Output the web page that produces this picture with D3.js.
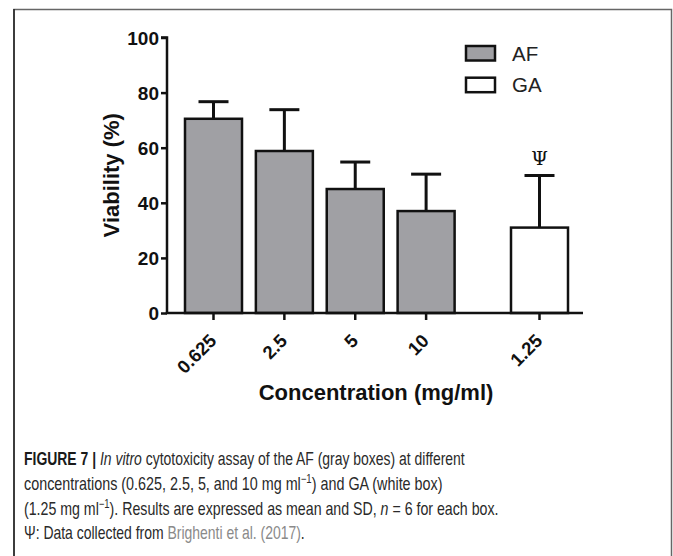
<!DOCTYPE html>
<html>
<head>
<meta charset="utf-8">
<script src="https://cdn.jsdelivr.net/npm/d3@7"></script>
<style>
  html, body { margin: 0; padding: 0; background: #fff; }
  svg { display: block; }
</style>
</head>
<body>
<svg id="chart" width="673" height="556"></svg>
<script>
// ---- data ----
const afCategories = ["0.625", "2.5", "5", "10"];
const afMeans = [70.5, 58.8, 45.0, 37.0];
const afSD = [6.2, 15.0, 9.8, 13.4];
const gaCategories = ["1.25"];
const gaMeans = [31.0];
const gaSD = [18.9];
const yTicks = [0, 20, 40, 60, 80, 100];
const legendLabels = ["AF", "GA"];
const annotation = "Ψ";

const svg = d3.select("#chart");
const C = {gray: "#a0a0a4", ink: "#111"};

// frame
svg.append("path").attr("d", "M14,560 L14,9.5 L671.5,9.5 L671.5,560")
  .attr("fill", "none").attr("stroke", "#666").attr("stroke-width", 1.5);
svg.append("line").attr("x1", 14).attr("x2", 14).attr("y1", 9).attr("y2", 560)
  .attr("stroke", "#222").attr("stroke-width", 1.5);

// scales
const y = d3.scaleLinear().domain([0, 100]).range([313, 37.5]);
const gap = 1.6;
const bars = afCategories.map((c, i) => ({cat: c, mean: afMeans[i], sd: afSD[i], slot: i, fill: C.gray}))
  .concat(gaCategories.map((c, i) => ({cat: c, mean: gaMeans[i], sd: gaSD[i], slot: afCategories.length - 1 + gap + i, fill: "#fff"})));
const x = d3.scaleLinear().domain([0, 3 + gap]).range([213.5, 539.5]);
const barW = 57, capW = 30;

const g = svg.append("g");

// error bars (behind bars)
g.selectAll("line.err").data(bars).join("line").attr("class", "err")
  .attr("x1", d => x(d.slot)).attr("x2", d => x(d.slot))
  .attr("y1", d => y(d.mean)).attr("y2", d => y(d.mean + d.sd))
  .attr("stroke", C.ink).attr("stroke-width", 3);
g.selectAll("line.cap").data(bars).join("line").attr("class", "cap")
  .attr("x1", d => x(d.slot) - capW / 2).attr("x2", d => x(d.slot) + capW / 2)
  .attr("y1", d => y(d.mean + d.sd)).attr("y2", d => y(d.mean + d.sd))
  .attr("stroke", C.ink).attr("stroke-width", 3);

// bars
g.selectAll("rect.bar").data(bars).join("rect").attr("class", "bar")
  .attr("x", d => x(d.slot) - barW / 2).attr("width", barW)
  .attr("y", d => y(d.mean)).attr("height", d => y(0) - y(d.mean))
  .attr("fill", d => d.fill).attr("stroke", C.ink).attr("stroke-width", 2.5);

// y axis
const yAxis = d3.axisLeft(y).tickValues(yTicks).tickSize(6).tickPadding(2);
const ya = svg.append("g").attr("transform", "translate(167,0)").call(yAxis);
ya.select(".domain").attr("stroke", C.ink).attr("stroke-width", 2.5).attr("d", `M-6,${y(100)}H0V${y(0)}`);
ya.selectAll(".tick line").attr("stroke", C.ink).attr("stroke-width", 2.5);
ya.selectAll(".tick text").attr("font-family", "Liberation Sans, Arial, sans-serif")
  .attr("font-weight", "bold").attr("font-size", 19).attr("fill", C.ink).attr("dy", "0.36em");

// x axis
const xa = svg.append("g").attr("transform", `translate(0,${y(0)})`);
xa.append("line").attr("x1", 165.8).attr("x2", 583).attr("y1", 0).attr("y2", 0)
  .attr("stroke", C.ink).attr("stroke-width", 2.5);
const xt = xa.selectAll("g.xt").data(bars).join("g").attr("class", "xt")
  .attr("transform", d => `translate(${x(d.slot)},0)`);
xt.append("line").attr("y1", 0).attr("y2", 7).attr("stroke", C.ink).attr("stroke-width", 2.5);
xt.append("text").text(d => d.cat)
  .attr("transform", "translate(4,29) rotate(-45)")
  .attr("text-anchor", "end")
  .attr("font-family", "Liberation Sans, Arial, sans-serif").attr("font-weight", "bold")
  .attr("font-size", 18.5).attr("fill", C.ink);

// axis titles
svg.append("text").text("Viability (%)")
  .attr("transform", `translate(119,${(y(0) + y(100)) / 2}) rotate(-90)`)
  .attr("text-anchor", "middle")
  .attr("font-family", "Liberation Sans, Arial, sans-serif").attr("font-weight", "bold")
  .attr("font-size", 22).attr("fill", C.ink);
svg.append("text").text("Concentration (mg/ml)")
  .attr("x", 376).attr("y", 400).attr("text-anchor", "middle")
  .attr("font-family", "Liberation Sans, Arial, sans-serif").attr("font-weight", "bold")
  .attr("font-size", 22).attr("fill", C.ink);

// annotation Ψ above GA
const ga = bars[bars.length - 1];
svg.append("text").text(annotation)
  .attr("x", x(ga.slot)).attr("y", y(ga.mean + ga.sd) - 11).attr("text-anchor", "middle")
  .attr("font-family", "DejaVu Serif, serif").attr("font-size", 19).attr("fill", C.ink);

// legend
const lg = svg.append("g").attr("transform", "translate(466,46)");
const li = lg.selectAll("g").data(legendLabels).join("g")
  .attr("transform", (d, i) => `translate(0,${i * 31.7})`);
li.append("rect").attr("width", 29).attr("height", 14.5)
  .attr("fill", (d, i) => i === 0 ? C.gray : "#fff").attr("stroke", C.ink).attr("stroke-width", 2.5);
li.append("text").text(d => d).attr("x", 46).attr("y", 14.5)
  .attr("font-family", "Liberation Sans, Arial, sans-serif").attr("font-size", 20.5).attr("fill", "#222");

// caption
const capFont = "Liberation Sans Narrow, Arial Narrow, Liberation Sans, sans-serif";
const capLines = [
  {y: 465, w: 441, parts: [{t: "FIGURE 7 | ", b: true}, {t: "In vitro", i: true}, {t: " cytotoxicity assay of the AF (gray boxes) at different"}]},
  {y: 490, w: 419, parts: [{t: "concentrations (0.625, 2.5, 5, and 10 mg ml"}, {t: "−1", sup: true}, {t: ") and GA (white box)", down: true}]},
  {y: 515, w: 475, parts: [{t: "(1.25 mg ml"}, {t: "−1", sup: true}, {t: "). Results are expressed as mean and SD, ", down: true}, {t: "n", i: true}, {t: " = 6 for each box."}]},
  {y: 539, w: 281, parts: [{t: "Ψ: Data collected from "}, {t: "Brighenti et al. (2017)", link: true}, {t: "."}]}
];
capLines.forEach(L => {
  const t = svg.append("text").attr("x", 24).attr("y", L.y)
    .attr("font-family", capFont).attr("font-size", 18).attr("fill", "#2a2a2a");
  L.parts.forEach(p => {
    const s = t.append("tspan").text(p.t);
    if (p.b) s.attr("font-weight", "bold").attr("fill", "#1a1a1a");
    if (p.i) s.attr("font-style", "italic");
    if (p.link) s.attr("fill", "#8a8a8a");
    if (p.sup) s.attr("font-size", 12).attr("dy", -7);
    if (p.down) s.attr("dy", 7);
  });
  const w = t.node().getComputedTextLength();
  t.attr("transform", `translate(24,0) scale(${L.w / w},1) translate(-24,0)`);
});
</script>
</body>
</html>
